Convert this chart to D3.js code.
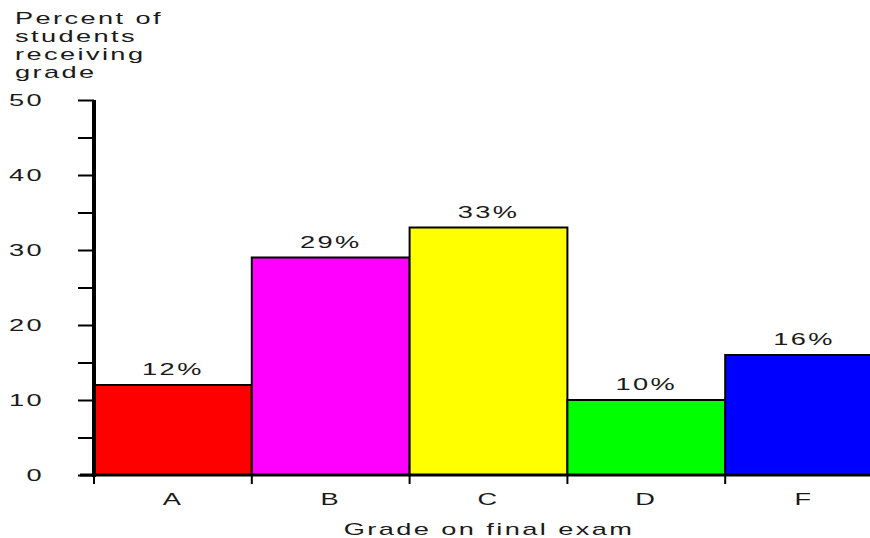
<!DOCTYPE html>
<html>
<head>
<meta charset="utf-8">
<script src="https://cdn.jsdelivr.net/npm/d3@7"></script>
<style>
  body { margin: 0; background: #fff; }
  text { font-family: "Liberation Sans", Arial, sans-serif; fill: #1a1a1a; }
</style>
</head>
<body>
<figure id="bars" style="margin:0"></figure>
<script>
// data
const grades = ["A", "B", "C", "D", "F"];
const percents = [12, 29, 33, 10, 16];
const colors = ["#ff0000", "#ff00ff", "#ffff00", "#00ff00", "#0000ff"];
const yTicks = [0, 10, 20, 30, 40, 50];
const yMinorTicks = [5, 15, 25, 35, 45];
const yTitle = ["Percent of", "students", "receiving", "grade"];
const xTitle = "Grade on final exam";

const width = 870, height = 538;
const fs = 17, sx = 1.6; // wide, stretched lettering

const svg = d3.select("figure#bars")
  .append("svg")
  .attr("width", width)
  .attr("height", height);

const x = d3.scaleBand()
  .domain(grades)
  .range([94, 883])
  .padding(0);

const y = d3.scaleLinear()
  .domain([0, 50])
  .range([475, 100]);

// stretched text helper
function label(g, tx, ty, str, anchor) {
  return g.append("text")
    .attr("transform", "translate(" + tx + "," + ty + ") scale(" + sx + ",1)")
    .attr("text-anchor", anchor || "start")
    .style("font-size", fs + "px")
    .style("letter-spacing", "1.5px")
    .text(str);
}

// bars
svg.append("g").selectAll("rect")
  .data(percents)
  .enter()
  .append("rect")
  .attr("x", (d, i) => x(grades[i]))
  .attr("y", d => y(d))
  .attr("width", x.bandwidth())
  .attr("height", d => y(0) - y(d))
  .style("fill", (d, i) => colors[i])
  .style("stroke", "#000")
  .style("stroke-width", 2);

// value labels
const vl = svg.append("g");
percents.forEach((d, i) => {
  label(vl, x(grades[i]) + x.bandwidth() / 2, y(d) - 10, d + "%", "middle");
});

// Y axis
const ya = svg.append("g").attr("transform", "translate(94,0)");
ya.call(d3.axisLeft(y).tickValues(yTicks.concat(yMinorTicks)).tickSize(16).tickFormat(""))
  .call(g => g.select(".domain").remove())
  .call(g => g.selectAll(".tick line").attr("stroke", "#000").attr("stroke-width", 2));
ya.append("line")
  .attr("x1", 0).attr("x2", 0)
  .attr("y1", y(50)).attr("y2", y(0) + 2)
  .attr("stroke", "#000").attr("stroke-width", 4);
const yl = svg.append("g");
yTicks.forEach(t => label(yl, 44, y(t) + 6, t, "end"));

// X axis baseline + boundary ticks
const xa = svg.append("g");
xa.append("line")
  .attr("x1", 80).attr("x2", width)
  .attr("y1", y(0)).attr("y2", y(0))
  .attr("stroke", "#000").attr("stroke-width", 3);
xa.selectAll(".bt")
  .data(grades)
  .enter()
  .append("line")
  .attr("x1", d => x(d)).attr("x2", d => x(d))
  .attr("y1", y(0)).attr("y2", y(0) + 9)
  .attr("stroke", "#000").attr("stroke-width", 2);
grades.forEach(g => label(xa, x(g) + x.bandwidth() / 2, 505, g, "middle"));

// titles
label(svg, 489, 535, xTitle, "middle");
yTitle.forEach((t, i) => label(svg, 15, 24 + i * 18, t, "start"));
</script>
</body>
</html>
